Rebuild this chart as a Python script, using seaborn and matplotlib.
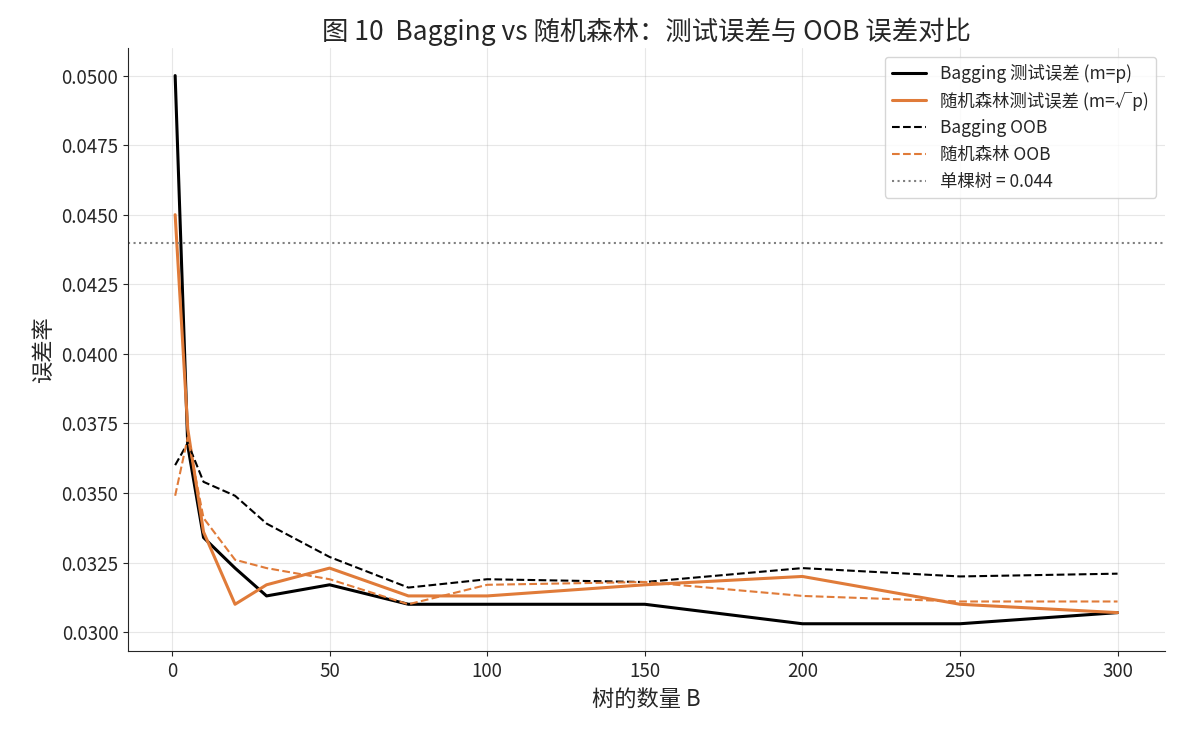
import numpy as np
import pandas as pd
import matplotlib
matplotlib.use("Agg")
import matplotlib.pyplot as plt
import seaborn as sns

# jumlah pohon dan error
n_trees = [1, 5, 10, 20, 30, 50, 75, 100, 150, 200, 250, 300]
bag_test = [0.0500, 0.0367, 0.0334, 0.0323, 0.0313, 0.0317, 0.0310, 0.0310, 0.0310, 0.0303, 0.0303, 0.0307]
rf_test = [0.0450, 0.0373, 0.0336, 0.0310, 0.0317, 0.0323, 0.0313, 0.0313, 0.0317, 0.0320, 0.0310, 0.0307]
bag_oob = [0.0360, 0.0368, 0.0354, 0.0349, 0.0339, 0.0327, 0.0316, 0.0319, 0.0318, 0.0323, 0.0320, 0.0321]
rf_oob = [0.0349, 0.0370, 0.0341, 0.0326, 0.0323, 0.0319, 0.0310, 0.0317, 0.0318, 0.0313, 0.0311, 0.0311]
single_tree = 0.044

df = pd.DataFrame({"B": n_trees, "bag_test": bag_test, "rf_test": rf_test,
                   "bag_oob": bag_oob, "rf_oob": rf_oob})

sns.set_style("ticks")
plt.rcParams['font.family'] = ['Noto Sans CJK SC', 'DejaVu Sans']
plt.rcParams['axes.unicode_minus'] = False

orange = "#E07B39"
fig, ax = plt.subplots(figsize=(11.8, 7.3), dpi=100)
fig.subplots_adjust(left=0.1085, right=0.987, top=0.934, bottom=0.108)

sns.lineplot(data=df, x="B", y="bag_test", ax=ax, color="black", linewidth=2.2,
             label="Bagging 测试误差 (m=p)")
sns.lineplot(data=df, x="B", y="rf_test", ax=ax, color=orange, linewidth=2.2,
             label="随机森林测试误差 (m=√p)")
sns.lineplot(data=df, x="B", y="bag_oob", ax=ax, color="black", linewidth=1.5,
             linestyle="--", label="Bagging OOB")
sns.lineplot(data=df, x="B", y="rf_oob", ax=ax, color=orange, linewidth=1.5,
             linestyle="--", label="随机森林 OOB")
ax.axhline(single_tree, color="gray", linestyle=":", linewidth=1.5,
           label="单棵树 = 0.044")

ax.yaxis.set_major_formatter(matplotlib.ticker.FormatStrFormatter("%.4f"))
ax.grid(True, color="#b0b0b0", alpha=0.3)
sns.despine(ax=ax)
ax.tick_params(labelsize=13.5)
ax.set_xlabel("树的数量 B", fontsize=16)
ax.set_ylabel("误差率", fontsize=16)
ax.set_title("图 10  Bagging vs 随机森林：测试误差与 OOB 误差对比", fontsize=19)
ax.legend(loc="upper right", fontsize=12.5)

plt.savefig("out.png", dpi=100)
